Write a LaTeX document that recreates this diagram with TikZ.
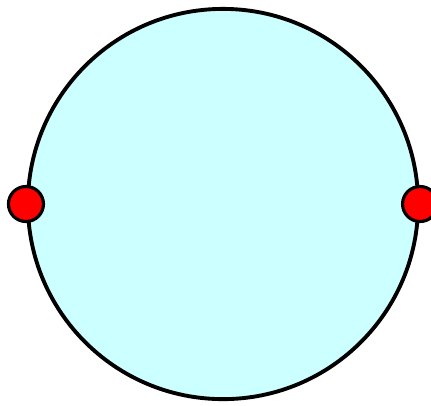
\documentclass[tikz,border=0pt]{standalone}

\definecolor{discfill}{RGB}{204,255,255}

\begin{document}
\begin{tikzpicture}[
  x=0.01cm,y=-0.01cm,
  disc/.style={draw=black,fill=discfill,line width=1.1pt,circle,
    minimum size=3.9cm,inner sep=0pt},
  pin/.style={draw=black,fill=red,line width=0.9pt,circle,
    minimum size=0.35cm,inner sep=0pt}]

  \useasboundingbox (0,0) rectangle (431,405);

  % the big circle
  \node[disc] (ring) at (223,204) {};

  % the two points on it
  \node[pin] (left) at (ring.west) {};
  \node[pin] (right) at (ring.east) {};
\end{tikzpicture}
\end{document}
